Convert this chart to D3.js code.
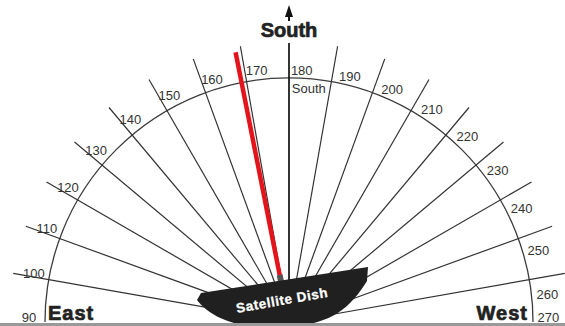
<!DOCTYPE html>
<html>
<head>
<meta charset="utf-8">
<script src="https://cdn.jsdelivr.net/npm/d3@7"></script>
<style>
  html, body { margin: 0; padding: 0; background: #fff; }
  svg { display: block; }
</style>
</head>
<body>
<div id="chart"></div>
<script>
// compass bearings shown on the protractor
const tickBearings = [90, 100, 110, 120, 130, 140, 150, 160, 170, 180, 190, 200, 210, 220, 230, 240, 250, 260, 270];
const rayBearings = [100, 110, 120, 130, 140, 150, 160, 170, 180, 190, 200, 210, 220, 230, 240, 250, 260];
const southBearing = 180;
const dishBearing = 168.8;   // red pointer
const sideLabels = ['East', 'West'];
const topLabel = 'South';
const dishLabel = 'Satellite Dish';

const width = 565, height = 326;
const cx = 289, cy = 322;
const arcR = 244, rayR = 280;

const svg = d3.select('#chart').append('svg')
    .attr('width', width)
    .attr('height', height);

// bearing -> angle (radians, 0 = up, clockwise)
const angle = d3.scaleLinear().domain([90, 270]).range([-Math.PI / 2, Math.PI / 2]);

const g = svg.append('g').attr('transform', `translate(${cx},${cy})`);

/* arc */
g.append('path')
    .attr('d', d3.arc()({ innerRadius: arcR, outerRadius: arcR, startAngle: angle(90), endAngle: angle(270) }))
    .attr('fill', 'none')
    .attr('stroke', '#3c3c3c')
    .attr('stroke-width', 1.3);

/* rays */
g.selectAll('.ray')
    .data(rayBearings.filter(b => b !== southBearing))
    .join('line')
    .attr('class', 'ray')
    .attr('x1', 0).attr('y1', 0)
    .attr('x2', d => d3.pointRadial(angle(d), rayR)[0])
    .attr('y2', d => d3.pointRadial(angle(d), rayR)[1])
    .attr('stroke', '#333')
    .attr('stroke-width', 1.2);

g.append('line')
    .attr('x1', 0).attr('y1', 0)
    .attr('x2', d3.pointRadial(angle(southBearing), 279)[0])
    .attr('y2', d3.pointRadial(angle(southBearing), 279)[1])
    .attr('stroke', '#111')
    .attr('stroke-width', 1.7);

/* tick labels */
function labelPos(b) {
    const phi = angle(b) * 180 / Math.PI;
    const shift = phi <= 0 ? 2.9 + 0.025 * phi : 3.9;
    const r = 252 + 8 * Math.abs(Math.sin(angle(b)));
    const p = d3.pointRadial((phi + shift) * Math.PI / 180, r);
    return [p[0], Math.min(p[1], -5)];
}

g.selectAll('.tick')
    .data(tickBearings)
    .join('text')
    .attr('class', 'tick')
    .attr('x', d => labelPos(d)[0])
    .attr('y', d => labelPos(d)[1])
    .attr('text-anchor', 'middle')
    .attr('dy', '0.36em')
    .attr('font-family', 'Liberation Sans, Arial, sans-serif')
    .attr('font-size', 13)
    .attr('fill', '#333')
    .text(d => d);

g.append('text')
    .attr('x', labelPos(180)[0] + 7)
    .attr('y', labelPos(180)[1] + 18)
    .attr('text-anchor', 'middle')
    .attr('dy', '0.36em')
    .attr('font-family', 'Liberation Sans, Arial, sans-serif')
    .attr('font-size', 13)
    .attr('fill', '#333')
    .text(topLabel);

/* red pointer */
const p0 = d3.pointRadial(angle(dishBearing), 47);
const p1 = d3.pointRadial(angle(dishBearing), 275);
g.append('line')
    .attr('x1', p0[0]).attr('y1', p0[1])
    .attr('x2', p1[0]).attr('y2', p1[1])
    .attr('stroke', '#e3141c')
    .attr('stroke-width', 4.5);

// feed horn
const f0 = d3.pointRadial(angle(dishBearing), 38);
const f1 = d3.pointRadial(angle(dishBearing), 48);
g.append('line')
    .attr('x1', f0[0]).attr('y1', f0[1])
    .attr('x2', f1[0]).attr('y2', f1[1])
    .attr('stroke', '#555')
    .attr('stroke-width', 6);

/* dish */
g.append('path')
    .attr('d', 'M-88,-29 L79,-55 L78,-41 C62,-15 42,3 0,4 L-40,4 C-65,1 -83,-10 -92,-22 Z')
    .attr('fill', '#202020');

g.append('text')
    .attr('transform', 'translate(-7,-22) rotate(-10)')
    .attr('text-anchor', 'middle')
    .attr('dy', '0.36em')
    .attr('font-family', 'Liberation Sans, Arial, sans-serif')
    .attr('font-weight', 'bold')
    .attr('font-size', 13.5)
    .attr('letter-spacing', 0.6)
    .attr('fill', '#fff')
    .attr('stroke', '#fff')
    .attr('stroke-width', 0.3)
    .text(dishLabel);

/* bottom rule */
svg.append('rect')
    .attr('x', 0).attr('y', 323)
    .attr('width', width).attr('height', 3)
    .attr('fill', '#999');

/* South heading with arrow */
svg.append('path')
    .attr('d', `M${cx},5 L${cx - 4},17 L${cx + 4},17 Z`)
    .attr('fill', '#111');
svg.append('line')
    .attr('x1', cx).attr('y1', 15).attr('x2', cx).attr('y2', 21)
    .attr('stroke', '#111').attr('stroke-width', 2);

const heading = (sel) => sel
    .attr('font-family', 'Liberation Sans, Arial, sans-serif')
    .attr('font-weight', 'bold')
    .attr('font-size', 20)
    .attr('fill', '#222')
    .attr('stroke', '#222')
    .attr('stroke-width', 0.7);

svg.append('text')
    .attr('x', cx).attr('y', 37)
    .attr('text-anchor', 'middle')
    .call(heading)
    .text(topLabel);

/* East / West */
svg.append('text')
    .attr('x', 48).attr('y', 320)
    .call(heading)
    .attr('letter-spacing', 1)
    .text(sideLabels[0]);

svg.append('text')
    .attr('x', 528).attr('y', 320)
    .attr('text-anchor', 'end')
    .call(heading)
    .attr('letter-spacing', 1)
    .text(sideLabels[1]);
</script>
</body>
</html>
